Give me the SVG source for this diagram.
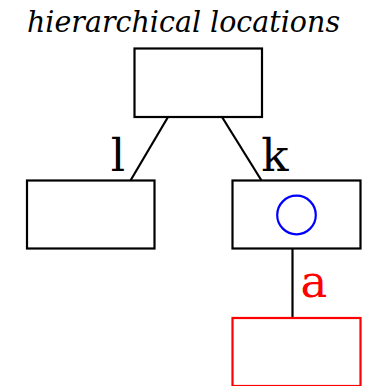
<svg xmlns="http://www.w3.org/2000/svg" width="378" height="386" viewBox="0 0 378 386">
  <style>
    .box { fill: #fff; stroke: #000; stroke-width: 2.2; }
    .box.red { stroke: #f00; }
    .edge { stroke: #000; stroke-width: 2.2; fill: none; }
    .lbl { font-family: 'DejaVu Serif', serif; font-size: 45px; }
    .title { font-family: 'DejaVu Serif', serif; font-style: italic; font-size: 29px; }
  </style>
  <rect width="378" height="386" fill="#fff"/>
  <text class="title" x="183.5" y="32" text-anchor="middle" textLength="313" lengthAdjust="spacingAndGlyphs">hierarchical locations</text>

  <g id="connectors">
    <line class="edge" x1="168" y1="117" x2="130.5" y2="180.5"/>
    <line class="edge" x1="222" y1="117" x2="261.5" y2="180.5"/>
    <line class="edge" x1="292.5" y1="248.5" x2="292.5" y2="318"/>
    <text class="lbl" x="118" y="170.5" text-anchor="middle">l</text>
    <text class="lbl" x="275" y="170.5" text-anchor="middle">k</text>
    <text class="lbl" x="314" y="297" text-anchor="middle" fill="#f00">a</text>
  </g>

  <g id="root">
    <rect class="box" x="134.5" y="48.5" width="127.5" height="68.5"/>
  </g>
  <g id="left">
    <rect class="box" x="27" y="180.5" width="127.5" height="68"/>
  </g>
  <g id="right">
    <rect class="box" x="232.5" y="180.5" width="128" height="68"/>
    <circle cx="296.5" cy="215" r="19.3" fill="none" stroke="#00f" stroke-width="2.2"/>
  </g>
  <g id="child">
    <rect class="box red" x="232.5" y="318" width="128" height="68"/>
  </g>
</svg>
